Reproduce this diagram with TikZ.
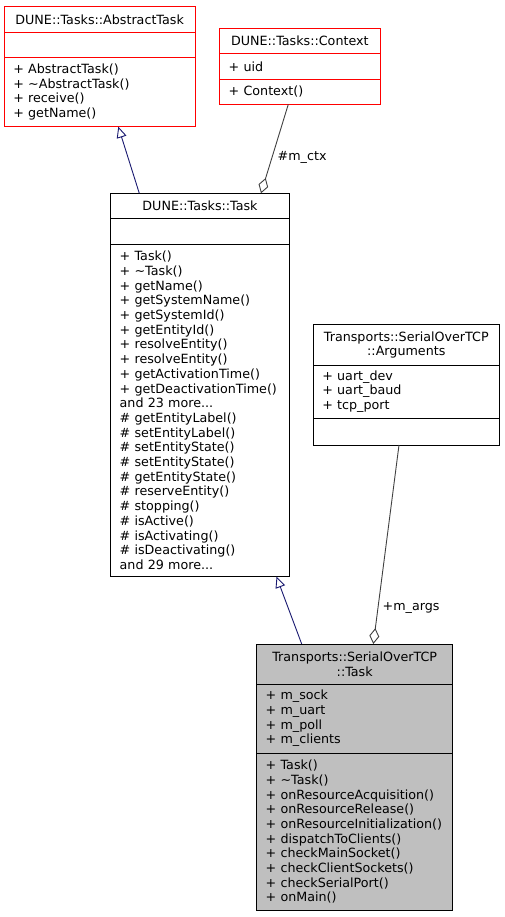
\documentclass[tikz,border=0pt]{standalone}
\usepackage{fontspec}
\setmainfont{DejaVu Sans}
\usetikzlibrary{positioning,arrows.meta}
\newcommand\umlfont{\fontsize{12.7}{14.7}\selectfont}
\definecolor{inhcol}{HTML}{191970}
\definecolor{aggcol}{HTML}{404040}
\definecolor{curcol}{HTML}{BFBFBF}
\begin{document}
\begin{tikzpicture}[
		box/.style={
			draw,
			rectangle,
			line width=0.9pt,
			inner xsep=9pt,
			inner ysep=0pt,
			outer sep=0pt,
			align=left,
			font=\umlfont,
			anchor=north west
		},
		head/.style={box,align=center},
		ext/.style={draw=red},
		cur/.style={fill=curcol},
		inherit/.style={draw=inhcol,line width=0.9pt,-{Triangle[open,length=11pt,width=10pt]}},
		aggr/.style={draw=aggcol,line width=0.9pt,-{Diamond[open,length=16pt,width=10pt]}},
		lbl/.style={anchor=west,font=\umlfont,text=black}
		]
		\useasboundingbox (0,0) rectangle (504pt,-917pt);
		% DUNE::Tasks::AbstractTask
		\node[head,ext,text width=172.7pt,minimum height=25.3pt] (abs-head) at (4.3pt,-6.7pt) {DUNE::Tasks::AbstractTask};
		\node[box,ext,text width=172.7pt,minimum height=25.3pt,below=0pt of abs-head] (abs-attr) {};
		\node[box,ext,text width=172.7pt,minimum height=69.4pt,below=0pt of abs-attr] (abs-meth)
			{+ AbstractTask()\\+ \textasciitilde AbstractTask()\\+ receive()\\+ getName()};
		% DUNE::Tasks::Context
		\node[head,ext,text width=142.3pt,minimum height=25pt] (ctx-head) at (219.7pt,-28.7pt) {DUNE::Tasks::Context};
		\node[box,ext,text width=142.3pt,minimum height=25.6pt,below=0pt of ctx-head] (ctx-attr) {+ uid};
		\node[box,ext,text width=142.3pt,minimum height=25pt,below=0pt of ctx-attr] (ctx-meth) {+ Context()};
		% DUNE::Tasks::Task
		\node[head,text width=160.6pt,minimum height=25pt] (task-head) at (110.7pt,-193.3pt) {DUNE::Tasks::Task};
		\node[box,text width=160.6pt,minimum height=25.7pt,below=0pt of task-head] (task-attr) {};
		\node[box,text width=160.6pt,minimum height=332.7pt,below=0pt of task-attr] (task-meth)
			{+ Task()\\+ \textasciitilde Task()\\+ getName()\\+ getSystemName()\\+ getSystemId()\\
			+ getEntityId()\\+ resolveEntity()\\+ resolveEntity()\\+ getActivationTime()\\
			+ getDeactivationTime()\\and 23 more...\\\# getEntityLabel()\\\# setEntityLabel()\\
			\# setEntityState()\\\# setEntityState()\\\# getEntityState()\\\# reserveEntity()\\
			\# stopping()\\\# isActive()\\\# isActivating()\\\# isDeactivating()\\and 29 more...};
		% Transports::SerialOverTCP::Arguments
		\node[head,text width=168pt,minimum height=40.3pt] (args-head) at (313.3pt,-324.7pt)
			{Transports::SerialOverTCP\\::Arguments};
		\node[box,text width=168pt,minimum height=53.3pt,below=0pt of args-head] (args-attr)
			{+ uart\_dev\\+ uart\_baud\\+ tcp\_port};
		\node[box,text width=168pt,minimum height=26.7pt,below=0pt of args-attr] (args-meth) {};
		% Transports::SerialOverTCP::Task
		\node[head,cur,text width=178pt,minimum height=40pt] (sot-head) at (256.7pt,-644pt)
			{Transports::SerialOverTCP\\::Task};
		\node[box,cur,text width=178pt,minimum height=69pt,below=0pt of sot-head] (sot-attr)
			{+ m\_sock\\+ m\_uart\\+ m\_poll\\+ m\_clients};
		\node[box,cur,text width=178pt,minimum height=157.7pt,below=0pt of sot-attr] (sot-meth)
			{+ Task()\\+ \textasciitilde Task()\\+ onResourceAcquisition()\\+ onResourceRelease()\\
			+ onResourceInitialization()\\+ dispatchToClients()\\+ checkMainSocket()\\
			+ checkClientSockets()\\+ checkSerialPort()\\+ onMain()};
		% Inheritance
		\draw[inherit] ([xshift=28.6pt]task-head.north west) -- ([xshift=114pt]abs-meth.south west);
		\draw[inherit] ([xshift=45pt]sot-head.north west) -- ([xshift=165.8pt]task-meth.south west);
		% Members
		\draw[aggr] ([xshift=68.6pt]ctx-meth.south west) -- node[lbl,pos=0.6,xshift=2pt] {\#m\_ctx} ([xshift=150.3pt]task-head.north west);
		\draw[aggr] ([xshift=85.7pt]args-meth.south west) -- node[lbl,pos=0.82,xshift=1pt] {+m\_args} ([xshift=116.6pt]sot-head.north west);
\end{tikzpicture}
\end{document}
